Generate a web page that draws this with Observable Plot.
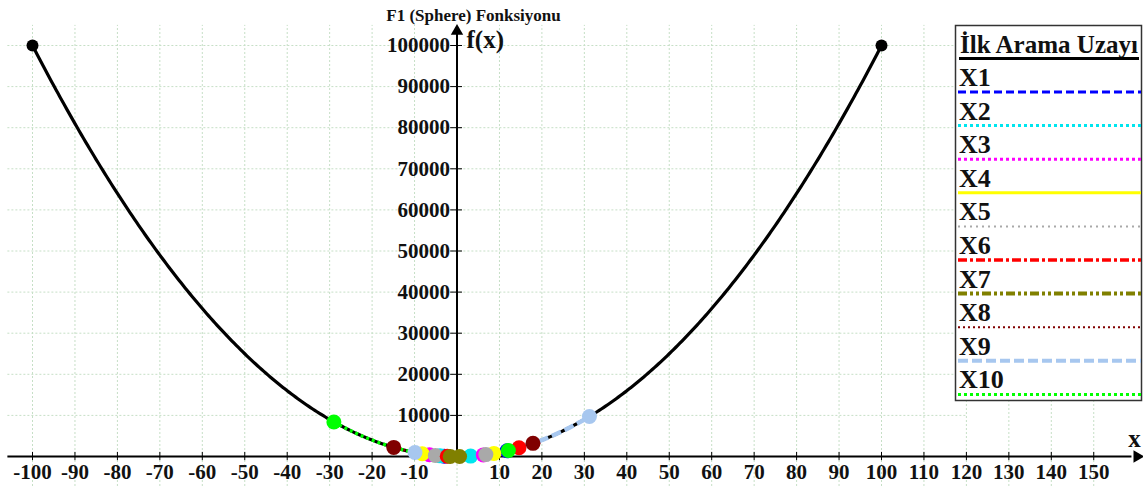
<!DOCTYPE html>
<html>
<head>
<meta charset="utf-8">
<script src="https://cdn.jsdelivr.net/npm/d3@7"></script>
<script src="https://cdn.jsdelivr.net/npm/@observablehq/plot@0.6"></script>
<style>
  html, body { margin: 0; padding: 0; background: #fff; }
  #wrap { position: relative; width: 1143px; height: 486px; overflow: hidden; }
  #legend { position: absolute; left: 0; top: 0; }
</style>
</head>
<body>
<div id="wrap"></div>
<script>
// ---- data ----
const chartTitle = "F1 (Sphere) Fonksiyonu";
const legendTitle = "İlk Arama Uzayı";
const series = ["X1", "X2", "X3", "X4", "X5", "X6", "X7", "X8", "X9", "X10"];
const colors = ["#0000ff", "#00e5ee", "#ff00ff", "#ffff00", "#a9a9a9", "#ff0000", "#808000", "#800000", "#a7c7ef", "#00ff00"];
const dashes = ["8,4", "3,3", "3,3", "none", "2,4", "9,3,3,3", "9,3,3,3,3,3", "2,3", "10,4", "3,3"];
const lineWidths = [3, 3, 3, 3, 2, 3.5, 4, 2, 4, 3];
// initial search interval of each variable
const lowerBounds = [-3.0, -4.0, -6.5, -8.2, -5.1, -2.3, -1.6, -14.9, -9.9, -29.0];
const upperBounds = [11.8, 3.2, 6.2, 8.7, 6.8, 14.6, 0.6, 17.9, 31.2, 12.1];
// full search space
const searchMin = -100, searchMax = 100;
const xTicks = [-100, -90, -80, -70, -60, -50, -40, -30, -20, -10, 10, 20, 30, 40, 50, 60, 70, 80, 90, 100, 110, 120, 130, 140, 150];
const yTicks = [10000, 20000, 30000, 40000, 50000, 60000, 70000, 80000, 90000, 100000];
const gridX = [-100, -90, -80, -70, -60, -50, -40, -30, -20, -10, 0, 10, 20, 30, 40, 50, 60, 70, 80, 90, 100, 110, 120, 130, 140, 150];

// F1 Sphere function (10 dimensions, all xi = x)
const sphere = x => 10 * x * x;
function sample(a, b, n = 200) {
  const pts = [];
  for (let i = 0; i <= n; i++) { const x = a + (b - a) * i / n; pts.push({x, y: sphere(x)}); }
  return pts;
}

const font = "'Liberation Serif', 'Times New Roman', serif";
const mainCurve = sample(searchMin, searchMax, 400);
const segs = series.map((s, i) => ({s, i, pts: sample(lowerBounds[i], upperBounds[i], 80)}));
const endDots = series.flatMap((s, i) => [
  {s, i, x: lowerBounds[i], y: sphere(lowerBounds[i])},
  {s, i, x: upperBounds[i], y: sphere(upperBounds[i])}
]);

const marks = [
  // grid
  Plot.ruleX(gridX, {x: d => d, y1: -7300, y2: 104900, stroke: "#c6dfc6", strokeWidth: 1, strokeDasharray: "2,2"}),
  Plot.ruleY(yTicks, {y: d => d, x1: -105.8, x2: 120, stroke: "#c6dfc6", strokeWidth: 1, strokeDasharray: "2,2"}),
  // axes
  Plot.ruleY([0], {x1: -105.8, x2: 159, stroke: "#000", strokeWidth: 2}),
  Plot.ruleX([0], {y1: 0, y2: 103000, stroke: "#000", strokeWidth: 2}),
  Plot.dot([{x: 0, y: 103500}], {x: "x", y: "y", symbol: "triangle", r: 4.6, fill: "#000"}),
  Plot.dot([{x: 160.2, y: 0}], {x: "x", y: "y", symbol: "triangle", r: 4.6, fill: "#000", rotate: 90}),
  Plot.ruleX(xTicks, {x: d => d, y1: -1000, y2: 1000, stroke: "#000", strokeWidth: 1}),
  Plot.ruleY(yTicks, {y: d => d, x1: -1.5, x2: 1.3, stroke: "#000", strokeWidth: 1}),
  Plot.text(xTicks, {x: d => d, y: 0, dy: 16, text: d => String(d), fontSize: 21, fontWeight: "bold", fontFamily: font, fill: "#111"}),
  Plot.text(yTicks, {x: 0, y: d => d, dx: -7, text: d => String(d), textAnchor: "end", fontSize: 21, fontWeight: "bold", fontFamily: font, fill: "#111"}),
  // main curve
  Plot.line(mainCurve, {x: "x", y: "y", stroke: "#000", strokeWidth: 3.2}),
  Plot.dot([{x: searchMin, y: sphere(searchMin)}, {x: searchMax, y: sphere(searchMax)}], {x: "x", y: "y", r: 6, fill: "#000"}),
  // initial intervals
  ...segs.map(g => Plot.line(g.pts, {x: "x", y: "y", stroke: colors[g.i], strokeWidth: lineWidths[g.i] + 0.5, strokeDasharray: dashes[g.i], strokeLinecap: "butt"})),
  Plot.dot(endDots, {x: "x", y: "y", r: 7.5, fill: d => colors[d.i]}),
  // labels
  Plot.text([chartTitle], {frameAnchor: "top-left", dx: 473, dy: 15, text: d => d, textAnchor: "middle", lineAnchor: "middle", fontSize: 17, fontWeight: "bold", fontFamily: font, fill: "#111"}),
  Plot.text(["f(x)"], {frameAnchor: "top-left", dx: 466, dy: 39, text: d => d, textAnchor: "start", lineAnchor: "middle", fontSize: 25, fontWeight: "bold", fontFamily: font, fill: "#111"}),
  Plot.text(["x"], {frameAnchor: "top-left", dx: 1134, dy: 438, text: d => d, textAnchor: "middle", lineAnchor: "middle", fontSize: 25, fontWeight: "bold", fontFamily: font, fill: "#111"})
];

const chart = Plot.plot({
  width: 1143, height: 486,
  marginLeft: 0, marginRight: 0, marginTop: 0, marginBottom: 0,
  x: {domain: [-107.54, 161.72], axis: null},
  y: {domain: [-7299, 110949], axis: null},
  style: {background: "#fff", overflow: "visible"},
  marks
});
const wrap = document.getElementById("wrap");
wrap.appendChild(chart);

// legend box
const lg = d3.select(wrap).append("svg").attr("id", "legend").attr("width", 1143).attr("height", 486);
lg.append("rect").attr("x", 955.5).attr("y", 25.5).attr("width", 186).attr("height", 375)
  .attr("fill", "#fff").attr("stroke", "#333").attr("stroke-width", 1.5);
lg.append("text").attr("x", 960).attr("y", 53).text(legendTitle)
  .attr("font-family", font).attr("font-weight", "bold").attr("font-size", 26).attr("fill", "#111")
  .attr("textLength", 178).attr("lengthAdjust", "spacingAndGlyphs");
lg.append("line").attr("x1", 959).attr("x2", 1139).attr("y1", 58.5).attr("y2", 58.5).attr("stroke", "#000").attr("stroke-width", 3);
series.forEach((s, i) => {
  const base = 86 + 33.6 * i;
  lg.append("text").attr("x", 959).attr("y", base).text(s)
    .attr("font-family", font).attr("font-weight", "bold").attr("font-size", 26).attr("fill", "#111");
  lg.append("line").attr("x1", 958).attr("x2", 1141).attr("y1", base + 6).attr("y2", base + 6)
    .attr("stroke", colors[i]).attr("stroke-width", lineWidths[i]).attr("stroke-dasharray", dashes[i]);
});
</script>
</body>
</html>
